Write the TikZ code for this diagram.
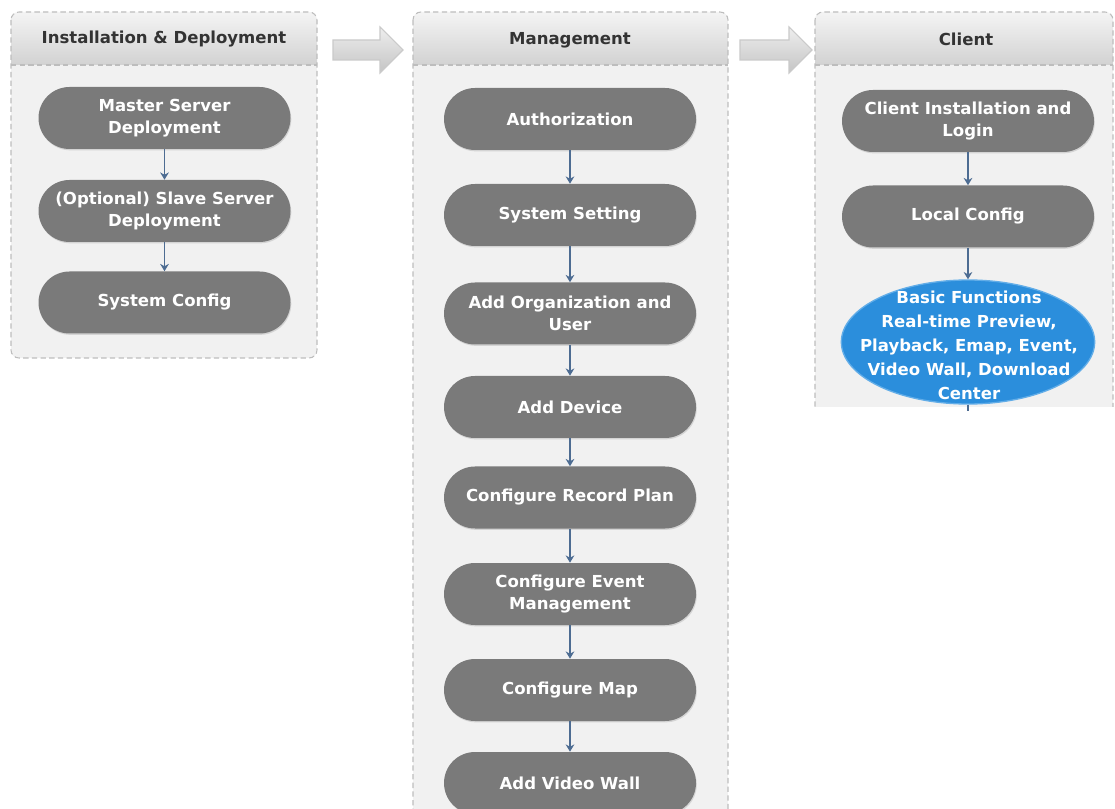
\documentclass[tikz,border=0pt]{standalone}
\usepackage{fontspec}
\setmainfont{DejaVu Sans}
\usetikzlibrary{shapes.misc,shapes.geometric,arrows.meta,shadows}
\definecolor{pillgray}{HTML}{7A7A7A}
\definecolor{panelbg}{HTML}{F1F1F1}
\definecolor{paneledge}{HTML}{BDBDBD}
\definecolor{headtop}{HTML}{F4F4F4}
\definecolor{headbot}{HTML}{D2D2D2}
\definecolor{headtext}{HTML}{333333}
\definecolor{flowblue}{HTML}{4D6C92}
\definecolor{funcblue}{HTML}{2B8EDC}
\definecolor{funcedge}{HTML}{62ADE8}
\definecolor{arrowtop}{HTML}{EEEEEE}
\definecolor{arrowbot}{HTML}{C4C4C4}
\definecolor{arrowedge}{HTML}{CACACA}
\tikzset{
  stepbox/.style={rounded rectangle, fill=pillgray, text=white,
    minimum width=189pt, minimum height=46.5pt, inner sep=0pt, align=center,
    font=\fontsize{12.4}{16.9}\selectfont\bfseries,
    drop shadow={opacity=0.25,shadow xshift=0.6pt,shadow yshift=-1pt}},
  headlabel/.style={text=headtext, inner sep=0pt,
    font=\fontsize{12.4}{16.9}\selectfont\bfseries},
  funclabel/.style={text=white, inner sep=0pt, align=center,
    font=\fontsize{12.4}{18}\selectfont\bfseries},
  flow/.style={draw=flowblue, line width=1.2pt, -{Stealth[length=5.5pt,width=6.5pt]}},
  panelline/.style={draw=paneledge, line width=0.8pt, dash pattern=on 4pt off 2.5pt},
  bigarrow/.style={top color=arrowtop, bottom color=arrowbot, draw=arrowedge, line width=0.8pt}
}
\newcommand{\drawpanel}[4]{%
  \begin{scope}
    \clip[rounded corners=6pt] (#1,#2) rectangle (#3,#4);
    \fill[panelbg] (#1,#2) rectangle (#3,#4);
    \shade[top color=headtop, bottom color=headbot] (#1,#2) rectangle (#3,65);
  \end{scope}
  \draw[panelline, rounded corners=6pt] (#1,#2) rectangle (#3,#4);
  \draw[panelline] (#1,65) -- (#3,65);
}
\begin{document}
\begin{tikzpicture}[x=0.75pt,y=-0.75pt]
\clip (0,0) rectangle (1115,809);
\fill[white] (0,0) rectangle (1115,809);

% panels
\drawpanel{11}{12}{317}{358}
\drawpanel{413}{12}{728}{850}
\begin{scope}
  \clip (800,0) rectangle (1115,407);
  \drawpanel{815}{12}{1113}{450}
\end{scope}

% big arrows between panels
\draw[bigarrow] (333,40) -- (380,40) -- (380,27) -- (403,50) -- (380,73) -- (380,60) -- (333,60) -- cycle;
\draw[bigarrow] (740,40) -- (789,40) -- (789,27) -- (812,50) -- (789,73) -- (789,60) -- (740,60) -- cycle;

% headers
\node[headlabel] (h1) at (164,39) {Installation \& Deployment};
\node[headlabel] (h2) at (570,40) {Management};
\node[headlabel] (h3) at (966,39) {Client};

% installation & deployment
\node[stepbox] (a1) at (164.5,118) {Master Server\\Deployment};
\node[stepbox] (a2) at (164.5,211) {(Optional) Slave Server\\Deployment};
\node[stepbox] (a3) at (164.5,302.5) {System Config};
\draw[flow] (a1.south) -- (a2.north);
\draw[flow] (a2.south) -- (a3.north);

% management
\node[stepbox] (b1) at (570,119) {Authorization};
\node[stepbox] (b2) at (570,215) {System Setting};
\node[stepbox] (b3) at (570,313.5) {Add Organization and\\User};
\node[stepbox] (b4) at (570,407) {Add Device};
\node[stepbox] (b5) at (570,497.5) {Configure Record Plan};
\node[stepbox] (b6) at (570,594) {Configure Event\\Management};
\node[stepbox] (b7) at (570,690) {Configure Map};
\node[stepbox] (b8) at (570,783) {Add Video Wall};
\draw[flow] (b1.south) -- (b2.north);
\draw[flow] (b2.south) -- (b3.north);
\draw[flow] (b3.south) -- (b4.north);
\draw[flow] (b4.south) -- (b5.north);
\draw[flow] (b5.south) -- (b6.north);
\draw[flow] (b6.south) -- (b7.north);
\draw[flow] (b7.south) -- (b8.north);

% client
\node[stepbox] (c1) at (968,121) {Client Installation and\\Login};
\node[stepbox] (c2) at (968,216.5) {Local Config};
\begin{scope}
  \clip (800,0) rectangle (1115,407);
  \node[ellipse, fill=funcblue, draw=funcedge, line width=1pt,
        minimum width=190pt, minimum height=93pt, inner sep=0pt] (c3) at (968,342) {};
  \node[funclabel] (c3text) at (969,345) {Basic Functions\\Real-time Preview,\\Playback, Emap, Event,\\Video Wall, Download\\Center};
\end{scope}
\draw[flow] (c1.south) -- (c2.north);
\draw[flow] (c2.south) -- (c3.north);
\coordinate (cut) at (968,411);
\draw[draw=flowblue, line width=1.2pt] (c3.south) -- (cut);
\end{tikzpicture}
\end{document}
